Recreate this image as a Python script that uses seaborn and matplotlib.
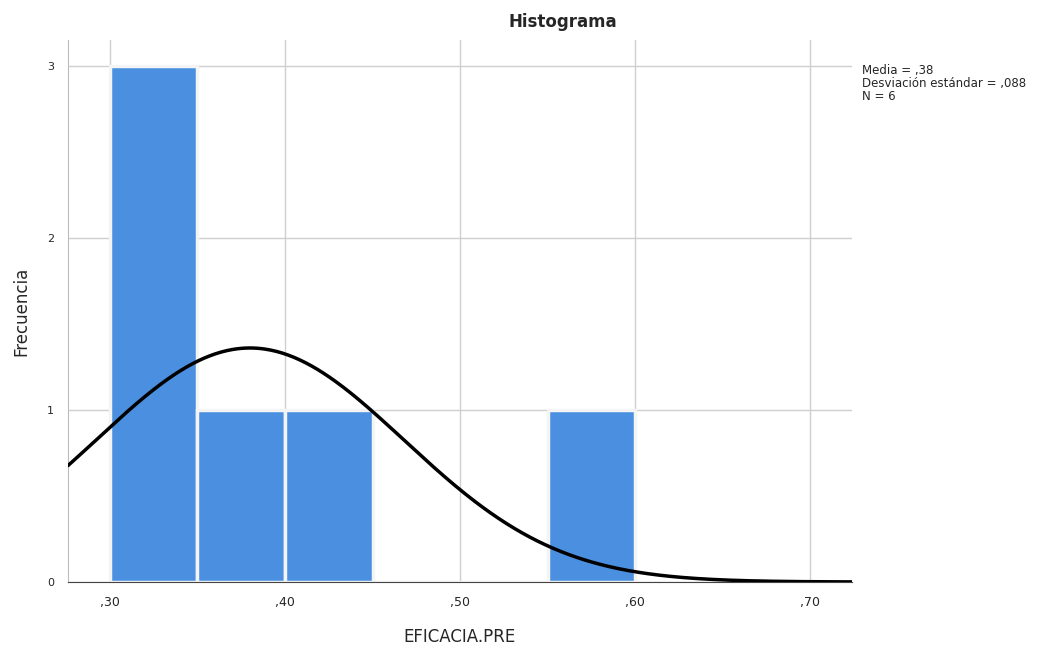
import numpy as np
import pandas as pd
import matplotlib
matplotlib.use("Agg")
import matplotlib.pyplot as plt
import seaborn as sns

# Data
bin_edges = [0.30, 0.35, 0.40, 0.45, 0.50, 0.55, 0.60]
bin_counts = [3, 1, 1, 0, 0, 1]
mean_val = 0.38
sd_val = 0.088
n_val = 6
x_ticks = [0.30, 0.40, 0.50, 0.60, 0.70]
x_tick_labels = [",30", ",40", ",50", ",60", ",70"]
y_ticks = [0, 1, 2, 3]
legend_lines = ["Media = ,38", "Desviación estándar = ,088", "N = 6"]

sns.set_style("white")
plt.rcParams['font.family'] = ['DejaVu Sans']

fig = plt.figure(figsize=(10.47, 6.52), dpi=100)
ax = fig.add_axes([68/1047, 1-582/652, (852-68)/1047, (582-40)/652])

centers = [(bin_edges[i] + bin_edges[i+1]) / 2 for i in range(len(bin_counts))]
df = pd.DataFrame({"x": centers, "w": bin_counts})
sns.histplot(data=df, x="x", weights="w", bins=bin_edges, ax=ax,
             color="#4a8fe0", alpha=1, edgecolor="#f4f4f4", linewidth=2.5, zorder=2)

xs = np.linspace(0.276, 0.724, 400)
binw = bin_edges[1] - bin_edges[0]
ys = n_val * binw * np.exp(-0.5 * ((xs - mean_val) / sd_val) ** 2) / (sd_val * np.sqrt(2 * np.pi))
sns.lineplot(x=xs, y=ys, ax=ax, color="black", linewidth=2.5, zorder=3)

ax.set_xlim(0.276, 0.724)
ax.set_ylim(0, 3.15)
ax.set_xticks(x_ticks)
ax.set_xticklabels(x_tick_labels, fontsize=9)
ax.set_yticks(y_ticks)
ax.set_yticklabels([str(v) for v in y_ticks], fontsize=8)
ax.grid(True, color="#cfcfcf", linewidth=1, zorder=0)
ax.set_axisbelow(True)
for s in ["top", "right"]:
    ax.spines[s].set_visible(False)
ax.spines["left"].set_color("#bbbbbb")
ax.spines["bottom"].set_color("#444444")
ax.tick_params(axis="both", length=0, pad=10)
ax.set_xlabel("EFICACIA.PRE", fontsize=12, labelpad=14)
ax.set_ylabel("Frecuencia", fontsize=12, labelpad=12)

fig.text(563/1047, 1-22/652, "Histograma", ha="center", va="center",
         fontsize=12, fontweight="bold")
fig.text(862/1047, 1-64/652, "\n".join(legend_lines), ha="left", va="top",
         fontsize=8.5, linespacing=1.0)

fig.savefig("out.png", dpi=100, facecolor="white")
